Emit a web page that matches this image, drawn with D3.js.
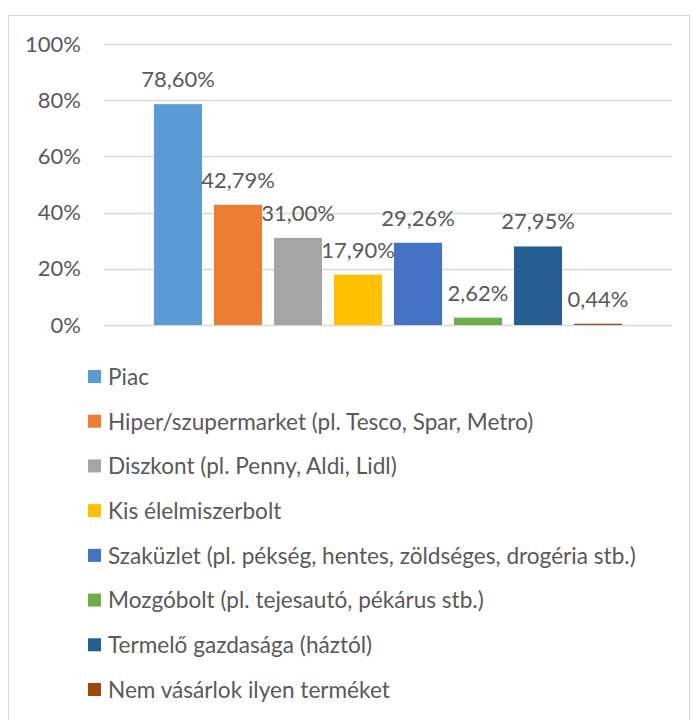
<!DOCTYPE html>
<html><head><meta charset="utf-8">
<script src="https://cdn.jsdelivr.net/npm/d3@7"></script>
<style>body{margin:0;background:#fff}svg{display:block}text{font-family:Lato,"Open Sans",sans-serif;fill:#595959}</style>
</head><body>
<svg id="c" width="691" height="720"></svg>
<script>
const categories = ["Kategória"];
const series = ["Piac","Hiper/szupermarket (pl. Tesco, Spar, Metro)","Diszkont (pl. Penny, Aldi, Lidl)","Kis élelmiszerbolt","Szaküzlet (pl. pékség, hentes, zöldséges, drogéria stb.)","Mozgóbolt (pl. tejesautó, pékárus stb.)","Termelő gazdasága (háztól)","Nem vásárlok ilyen terméket"];
const values = [78.60, 42.79, 31.00, 17.90, 29.26, 2.62, 27.95, 0.44];
const colors = ["#5b9bd5","#ed7d31","#a5a5a5","#ffc000","#4472c4","#70ad47","#255e91","#9e480e"];
const yTicks = [0,20,40,60,80,100];

const svg = d3.select("#c");
svg.append("rect").attr("x",8.5).attr("y",15.5).attr("width",681).attr("height",720)
  .attr("fill","#fff").attr("stroke","#d9d9d9").attr("stroke-width",1);

const y = d3.scaleLinear().domain([0,100]).range([325,44]);
const x0 = d3.scaleBand().domain(categories).range([104,672]).paddingInner(0).paddingOuter(0.1068);
const x1 = d3.scaleBand().domain(series).range([0,x0.bandwidth()]).paddingInner(0.2).paddingOuter(0);

const fmt = v => v.toFixed(2).replace(".",",") + "%";

// gridlines
svg.append("g").selectAll("line").data(yTicks).join("line")
  .attr("x1",104).attr("x2",672).attr("y1",d=>Math.round(y(d))+0.5).attr("y2",d=>Math.round(y(d))+0.5)
  .attr("stroke","#d9d9d9").attr("stroke-width",1.3);

// y axis labels
const yAxis = d3.axisLeft(y).tickValues(yTicks).tickFormat(d=>d+"%").tickSize(0).tickPadding(0);
const ga = svg.append("g").attr("transform","translate(81,0)").call(yAxis);
ga.select(".domain").remove();
ga.selectAll("text").style("font-size","22px").style("fill","#595959").style("font-family","Lato,sans-serif");

const g = svg.append("g").attr("transform",`translate(${x0(categories[0])},0)`);
const data = series.map((s,i)=>({s, v:values[i], c:colors[i]}));
g.selectAll("rect").data(data).join("rect")
  .attr("x",d=>x1(d.s)).attr("width",x1.bandwidth())
  .attr("y",d=>y(d.v)).attr("height",d=>y(0)-y(d.v)).attr("fill",d=>d.c);
g.selectAll("text.lbl").data(data).join("text").attr("class","lbl")
  .attr("x",d=>x1(d.s)+x1.bandwidth()/2).attr("y",d=>y(d.v)-17)
  .attr("text-anchor","middle").style("font-size","22px").text(d=>fmt(d.v));

// legend
const lg = svg.append("g");
const ly = d3.scaleLinear().domain([0,series.length-1]).range([377,690]);
const items = lg.selectAll("g").data(data).join("g").attr("transform",(d,i)=>`translate(88,${ly(i)})`);
items.append("rect").attr("x",0).attr("y",-7).attr("width",13).attr("height",13).attr("fill",d=>d.c);
items.append("text").attr("x",20).attr("y",0).attr("dy","0.35em").style("font-size","22.6px").text(d=>d.s);
</script>
</body></html>
